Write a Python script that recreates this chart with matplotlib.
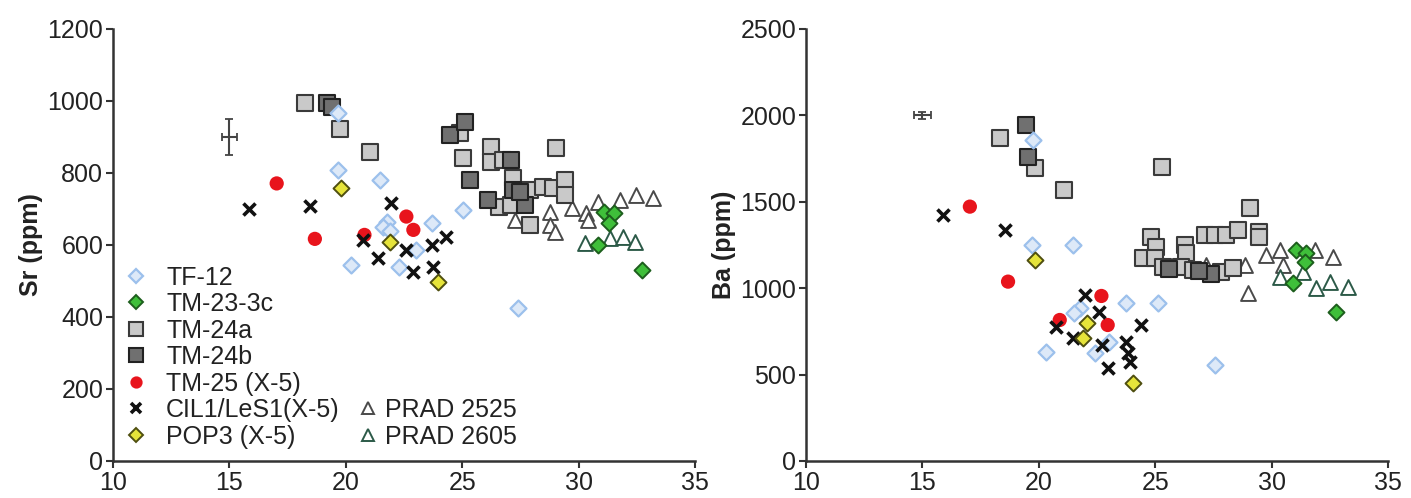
import matplotlib
matplotlib.use("Agg")
import matplotlib.pyplot as plt
from matplotlib.lines import Line2D

plt.rcParams['font.family'] = ['Liberation Sans', 'DejaVu Sans']

# ---------------- data: left panel (Sr) ----------------
tf12_x_sr = [19.66, 19.67, 21.46, 21.75, 21.6, 21.9, 23.68, 25.03, 23.0, 20.24, 22.3, 27.4]
tf12_sr = [967, 808, 781, 665, 651, 640, 660, 697, 586, 544, 540, 425]

tm233c_x_sr = [31.1, 31.5, 31.3, 30.83, 32.7]
tm233c_sr = [692, 688, 660, 600, 530]

tm24a_x_sr = [18.24, 19.77, 21.03, 24.9, 25.04, 26.25, 26.25, 26.75, 27.18, 29.04,
              26.6, 27.1, 27.9, 28.47, 28.9, 29.4, 29.4, 27.9]
tm24a_sr = [994, 922, 859, 910, 841, 873, 831, 836, 785, 869,
            706, 711, 753, 762, 757, 781, 739, 656]

tm24b_x_sr = [19.2, 19.4, 24.46, 25.1, 25.32, 26.1, 27.1, 27.2, 27.7, 27.47]
tm24b_sr = [994, 983, 906, 943, 781, 725, 836, 753, 711, 748]

tm25_x_sr = [17.03, 18.67, 20.8, 22.6, 22.9]
tm25_sr = [771, 617, 628, 679, 642]

cil_x_sr = [15.84, 18.45, 21.96, 20.74, 21.37, 22.6, 22.9, 23.68, 24.32, 23.75]
cil_sr = [699, 708, 716, 614, 564, 586, 525, 600, 621, 540]

pop3_x_sr = [19.81, 21.89, 23.96]
pop3_sr = [757, 609, 498]

prad2525_x_sr = [27.25, 28.76, 28.76, 28.97, 29.7, 30.33, 30.4, 30.83, 31.76, 32.47, 33.19]
prad2525_sr = [669, 692, 656, 637, 702, 688, 669, 720, 725, 739, 730]

prad2605_x_sr = [30.26, 31.33, 31.9, 32.4]
prad2605_sr = [605, 619, 623, 609]

# ---------------- data: right panel (Ba) ----------------
tf12_x_ba = [19.76, 19.69, 21.48, 23.76, 25.1, 21.76, 21.5, 23.0, 20.33, 22.4, 27.58]
tf12_ba = [1858, 1250, 1250, 912, 912, 884, 855, 690, 633, 623, 553]

tm233c_x_ba = [31.06, 31.49, 31.42, 30.9, 32.78]
tm233c_ba = [1221, 1202, 1153, 1028, 864]

tm24a_x_ba = [18.33, 19.83, 21.1, 25.3, 29.06, 24.84, 25.05, 26.27, 26.34, 27.12, 27.55,
              28.06, 28.55, 29.48, 29.48, 24.48, 24.98, 25.33, 26.12, 26.62, 27.84, 28.34]
tm24a_ba = [1867, 1694, 1568, 1703, 1462, 1298, 1240, 1250, 1202, 1308, 1308,
            1308, 1337, 1327, 1298, 1173, 1173, 1124, 1124, 1105, 1095, 1115]

tm24b_x_ba = [19.47, 19.54, 25.6, 27.4, 26.9]
tm24b_ba = [1944, 1761, 1110, 1085, 1100]

tm25_x_ba = [17.04, 18.68, 20.9, 22.69, 22.96]
tm25_ba = [1472, 1038, 816, 955, 787]

cil_x_ba = [15.9, 18.54, 21.97, 22.6, 20.76, 21.47, 22.73, 24.4, 23.76, 23.84, 23.9, 22.98]
cil_ba = [1424, 1337, 961, 864, 777, 710, 671, 787, 690, 623, 575, 536]

pop3_x_ba = [19.83, 22.05, 21.9, 24.05]
pop3_ba = [1163, 797, 710, 450]

prad2525_x_ba = [27.2, 28.84, 28.98, 29.77, 30.34, 30.48, 31.85, 32.63]
prad2525_ba = [1134, 1134, 970, 1192, 1221, 1134, 1221, 1182]

prad2605_x_ba = [30.34, 31.34, 31.92, 32.49, 33.27]
prad2605_ba = [1067, 1095, 999, 1038, 1009]

# error-bar crosses
err_sr = dict(x=15.0, y=900, xerr=0.32, yerr=50)
err_ba = dict(x=15.0, y=2000, xerr=0.35, yerr=22)

labels = ["TF-12", "TM-23-3c", "TM-24a", "TM-24b", "TM-25 (X-5)",
          "CIL1/LeS1(X-5)", "POP3 (X-5)", "PRAD 2525", "PRAD 2605"]

styles = {
    "TF-12": dict(marker='D', s=66, facecolor='#dde9f8', edgecolor='#9cc0ec', linewidths=1.6),
    "TM-23-3c": dict(marker='D', s=66, facecolor='#3fbf3a', edgecolor='#1d5e1d', linewidths=1.4),
    "TM-24a": dict(marker='s', s=125, facecolor='#c9c9c9', edgecolor='#3a3a3a', linewidths=1.5),
    "TM-24b": dict(marker='s', s=125, facecolor='#707070', edgecolor='#222222', linewidths=1.5),
    "TM-25 (X-5)": dict(marker='o', s=105, facecolor='#e8141c', edgecolor='none', linewidths=0),
    "CIL1/LeS1(X-5)": dict(marker='x', s=75, color='#111111', linewidths=2.6),
    "POP3 (X-5)": dict(marker='D', s=66, facecolor='#e6e43a', edgecolor='#4f4f10', linewidths=1.4),
    "PRAD 2525": dict(marker='^', s=115, facecolor='white', edgecolor='#4a4a4a', linewidths=1.4),
    "PRAD 2605": dict(marker='^', s=115, facecolor='white', edgecolor='#2c5a48', linewidths=1.4),
}

order = ["PRAD 2525", "PRAD 2605", "TM-24a", "TM-24b", "TF-12", "TM-23-3c",
         "TM-25 (X-5)", "CIL1/LeS1(X-5)", "POP3 (X-5)"]

left_data = {
    "TF-12": (tf12_x_sr, tf12_sr), "TM-23-3c": (tm233c_x_sr, tm233c_sr),
    "TM-24a": (tm24a_x_sr, tm24a_sr), "TM-24b": (tm24b_x_sr, tm24b_sr),
    "TM-25 (X-5)": (tm25_x_sr, tm25_sr), "CIL1/LeS1(X-5)": (cil_x_sr, cil_sr),
    "POP3 (X-5)": (pop3_x_sr, pop3_sr), "PRAD 2525": (prad2525_x_sr, prad2525_sr),
    "PRAD 2605": (prad2605_x_sr, prad2605_sr),
}
right_data = {
    "TF-12": (tf12_x_ba, tf12_ba), "TM-23-3c": (tm233c_x_ba, tm233c_ba),
    "TM-24a": (tm24a_x_ba, tm24a_ba), "TM-24b": (tm24b_x_ba, tm24b_ba),
    "TM-25 (X-5)": (tm25_x_ba, tm25_ba), "CIL1/LeS1(X-5)": (cil_x_ba, cil_ba),
    "POP3 (X-5)": (pop3_x_ba, pop3_ba), "PRAD 2525": (prad2525_x_ba, prad2525_ba),
    "PRAD 2605": (prad2605_x_ba, prad2605_ba),
}

fig = plt.figure(figsize=(14.11, 4.98), dpi=100)
ax1 = fig.add_axes([0.0801, 0.0743, 0.4125, 0.8675])
ax2 = fig.add_axes([0.5712, 0.0743, 0.4125, 0.8675])

FS = 18
spine_col = '#333333'
txt_col = '#222222'


def style_axis(ax, ymax, ystep, ylabel):
    ax.set_xlim(10, 35)
    ax.set_ylim(0, ymax)
    ax.set_xticks(range(10, 36, 5))
    ax.set_yticks(range(0, ymax + 1, ystep))
    for s in ['top', 'right']:
        ax.spines[s].set_visible(False)
    for s in ['left', 'bottom']:
        ax.spines[s].set_linewidth(1.8)
        ax.spines[s].set_color(spine_col)
    ax.tick_params(axis='both', direction='out', length=5, width=1.5, color=spine_col,
                   labelsize=FS, labelcolor=txt_col, pad=2)
    ax.set_ylabel(ylabel, fontsize=FS, fontweight='bold', color=txt_col)
    ax.yaxis.set_label_coords(-0.12, 0.5)


for ax, data, err in [(ax1, left_data, err_sr), (ax2, right_data, err_ba)]:
    for name in order:
        xs, ys = data[name]
        ax.scatter(xs, ys, zorder=3, **styles[name])
    ax.errorbar(err['x'], err['y'], xerr=err['xerr'], yerr=err['yerr'], fmt='none',
                ecolor='#444444', elinewidth=1.5, capsize=3, capthick=1.3, zorder=3)

style_axis(ax1, 1200, 200, "Sr (ppm)")
style_axis(ax2, 2500, 500, "Ba (ppm)")


def handle(name):
    st = styles[name]
    ms = st['s'] ** 0.5
    if st['marker'] == 'x':
        return Line2D([], [], linestyle='none', marker='x', markersize=ms * 0.9,
                      color=st['color'], markeredgewidth=st['linewidths'])
    return Line2D([], [], linestyle='none', marker=st['marker'], markersize=ms * 0.85,
                  markerfacecolor=st['facecolor'],
                  markeredgecolor=st['edgecolor'] if st['edgecolor'] != 'none' else st['facecolor'],
                  markeredgewidth=max(st['linewidths'], 0.1))


first = labels[:7]
leg1 = ax1.legend([handle(n) for n in first], first, loc='lower left',
                  bbox_to_anchor=(-0.012, -0.012), frameon=False, fontsize=FS,
                  labelspacing=0.1, handlelength=1.0, handletextpad=0.7,
                  borderpad=0.2, labelcolor=txt_col)
ax1.add_artist(leg1)
second = labels[7:]
ax1.legend([handle(n) for n in second], second, loc='lower left',
           bbox_to_anchor=(0.39, -0.012), frameon=False, fontsize=FS,
           labelspacing=0.1, handlelength=0.8, handletextpad=0.3,
           borderpad=0.2, labelcolor=txt_col)

fig.savefig("out.png", dpi=100)
